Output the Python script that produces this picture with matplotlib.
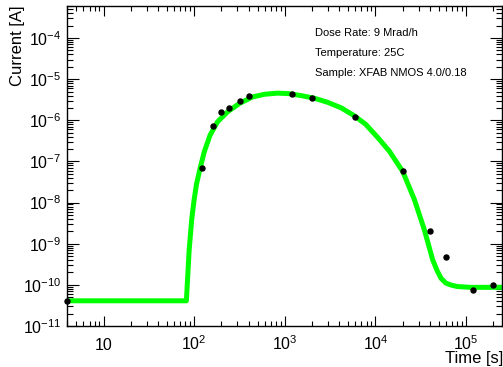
import numpy as np
import matplotlib
matplotlib.use("Agg")
import matplotlib.pyplot as plt
from matplotlib.ticker import LogLocator, FixedLocator, NullFormatter

plt.rcParams['font.family'] = ['Liberation Sans', 'DejaVu Sans']
plt.rcParams['mathtext.fontset'] = 'custom'
plt.rcParams['mathtext.rm'] = 'Liberation Sans'
plt.rcParams['mathtext.it'] = 'Liberation Sans:italic'
plt.rcParams['mathtext.bf'] = 'Liberation Sans:bold'

# measured points
t_data = [4, 122, 160, 200, 241, 319, 401, 1194, 1995, 5970, 20000, 40400, 60700, 119000, 200000]
i_data = [4.0e-11, 7.1e-8, 7.4e-7, 1.56e-6, 2.0e-6, 2.95e-6, 3.8e-6, 4.3e-6, 3.4e-6,
          1.2e-6, 5.7e-8, 2.0e-9, 4.8e-10, 7.7e-11, 1.0e-10]

# fit curve
t_fit = [3.9, 82, 88, 94, 100, 106, 116, 129, 150, 181, 233, 314, 441, 600, 830, 1100,
         1500, 2100, 2950, 4200, 5800, 7800, 10500, 14300, 20000, 26900, 34700, 42900,
         48000, 52900, 60000, 68200, 80000, 112000, 250000]
i_fit = [4.1e-11, 4.1e-11, 7e-10, 4e-9, 1.2e-8, 2.8e-8, 6.7e-8, 1.7e-7, 4.4e-7, 9.2e-7,
         1.6e-6, 2.55e-6, 3.7e-6, 4.3e-6, 4.57e-6, 4.45e-6, 4.0e-6, 3.45e-6, 2.75e-6,
         2.0e-6, 1.3e-6, 8e-7, 3.9e-7, 1.75e-7, 5.7e-8, 1.18e-8, 2.15e-9, 4e-10,
         2.2e-10, 1.44e-10, 1.1e-10, 9.9e-11, 9.1e-11, 8.7e-11, 8.7e-11]

info = ["Dose Rate: 9 Mrad/h", "Temperature: 25C", "Sample: XFAB NMOS 4.0/0.18"]

fig = plt.figure(figsize=(5.03, 3.67), dpi=100)
ax = fig.add_axes([67/503, 41/367, 435/503, 320/367])

ax.plot(t_fit, i_fit, color='#00ff00', lw=3.6, solid_joinstyle='round', zorder=2)
ax.plot(t_data, i_data, 'o', color='black', ms=3.6, zorder=3, clip_on=False)

ax.set_xscale('log')
ax.set_yscale('log')
ax.set_xlim(3.95, 2.49e5)
ax.set_ylim(1e-11, 6e-4)

xmaj = [10, 1e2, 1e3, 1e4, 1e5]
xlab = ["10", "$10^{2}$", "$10^{3}$", "$10^{4}$", "$10^{5}$"]
ax.xaxis.set_major_locator(FixedLocator(xmaj))
ax.set_xticklabels(xlab)
ax.xaxis.set_minor_locator(LogLocator(base=10, subs=np.arange(2, 10), numticks=50))
ax.xaxis.set_minor_formatter(NullFormatter())

ymaj = [10.0**k for k in range(-11, -3)]
ylab = ["$10^{%d}$" % k for k in range(-11, -3)]
ax.yaxis.set_major_locator(FixedLocator(ymaj))
ax.set_yticklabels(ylab)
ax.yaxis.set_minor_locator(LogLocator(base=10, subs=np.arange(2, 10), numticks=50))
ax.yaxis.set_minor_formatter(NullFormatter())

ax.tick_params(which='both', direction='in', top=True, right=True, width=0.8, labelsize=11.5)
ax.tick_params(axis='x', which='major', length=7.2, pad=17)
ax.tick_params(axis='x', which='minor', length=3.6)
ax.tick_params(axis='y', which='major', length=8.6, pad=4)
ax.tick_params(axis='y', which='minor', length=4.3)
for lab in ax.get_xticklabels():
    lab.set_verticalalignment('baseline')
for sp in ax.spines.values():
    sp.set_linewidth(1.0)

for k, s in enumerate(info):
    ax.text(0.570, 0.916 - k * 0.063, s, transform=ax.transAxes, fontsize=8, va='center', ha='left')

fig.text(503/503, 4/367, "Time [s]", ha='right', va='baseline', fontsize=12)
fig.text(18/503, 1 - 5/367, "Current [A]", rotation=90, ha='center', va='top', fontsize=12)

fig.savefig("out.png", dpi=100)
